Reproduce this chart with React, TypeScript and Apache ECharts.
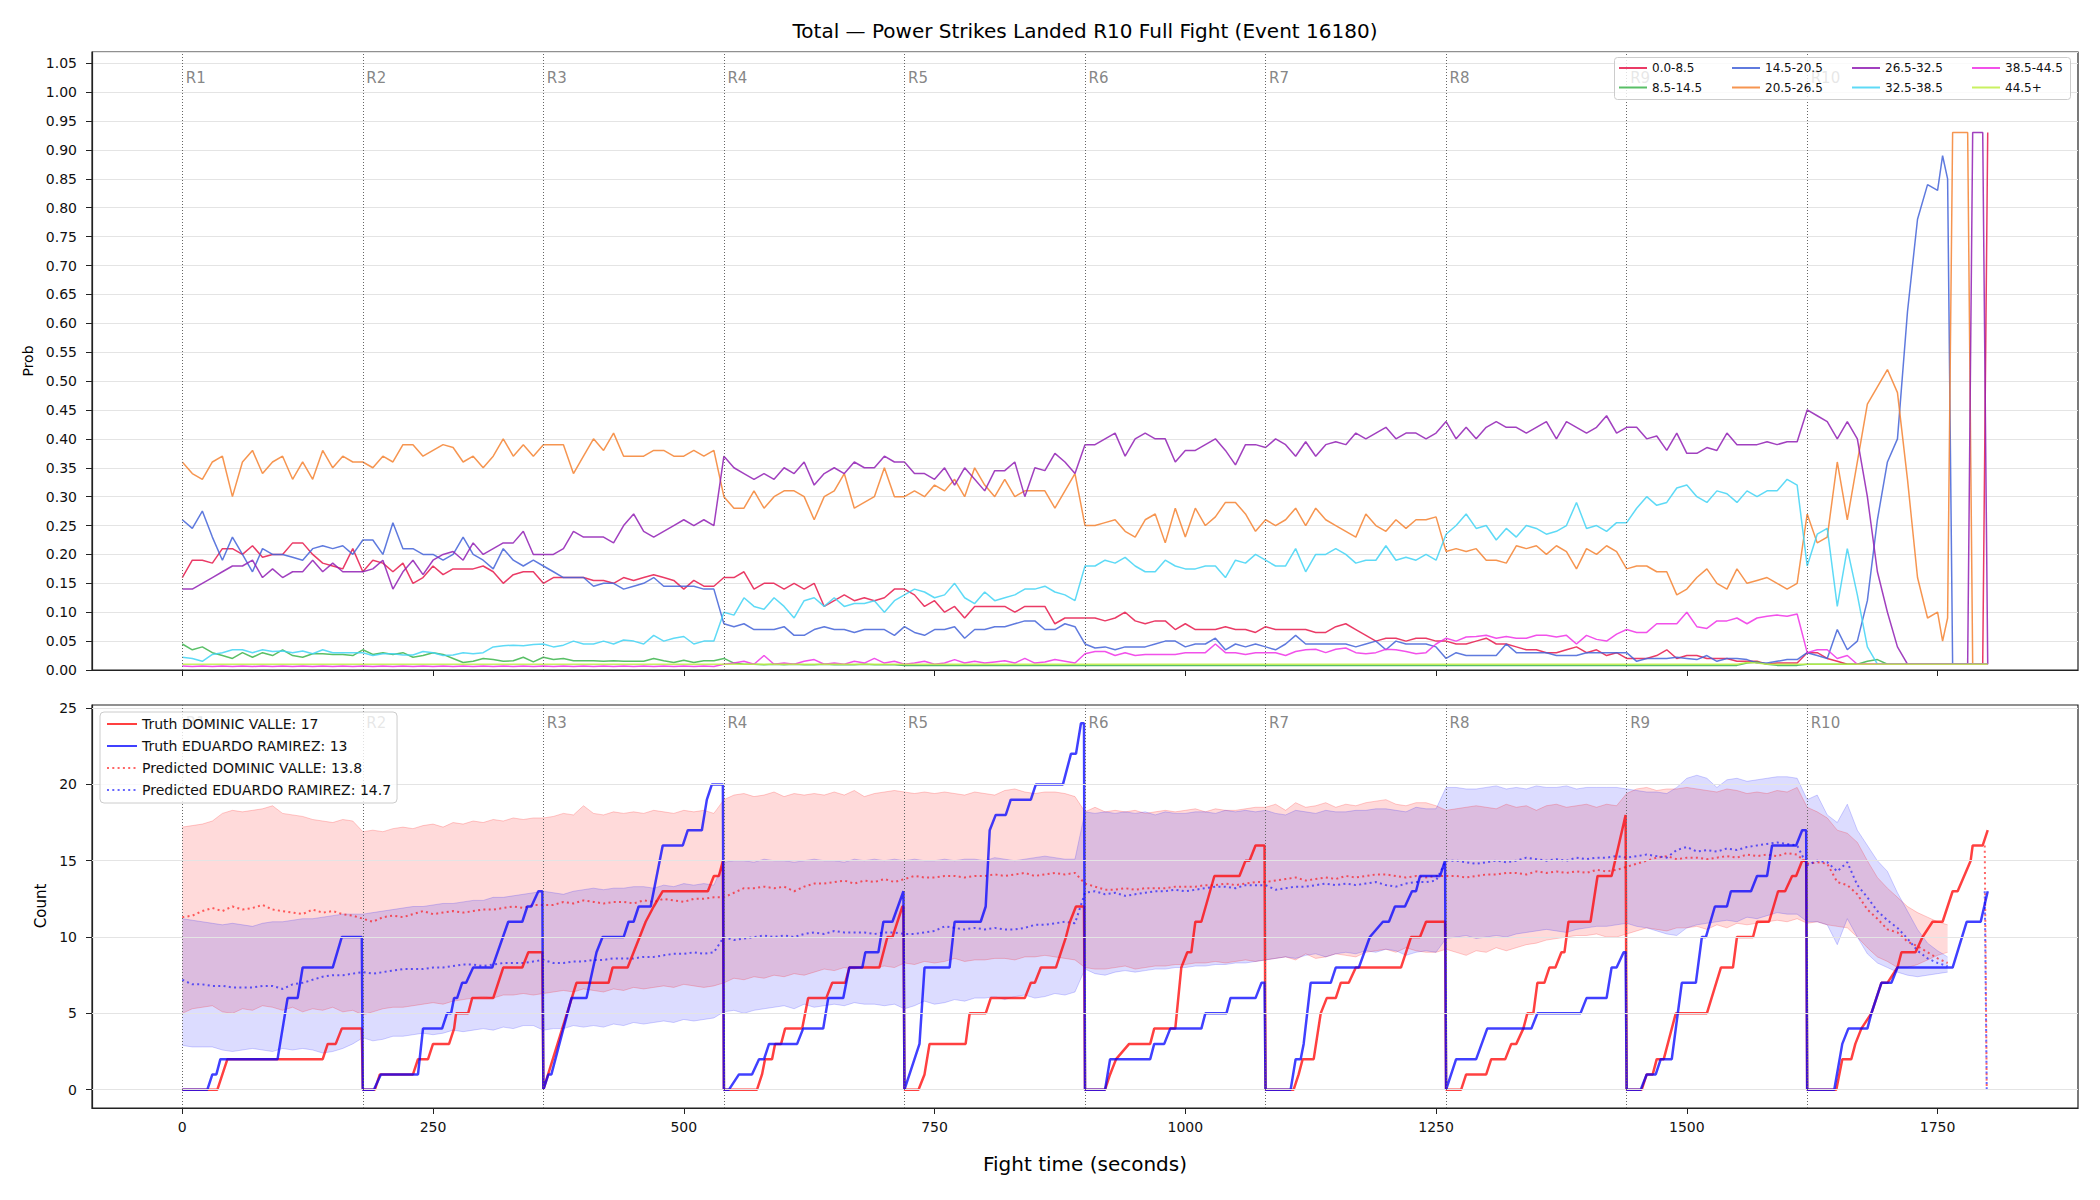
import React, { useEffect, useRef } from "react";
import * as echarts from "echarts";

const FONT = '"DejaVu Sans", sans-serif';

const ROUND_LABELS = ["R1", "R2", "R3", "R4", "R5", "R6", "R7", "R8", "R9", "R10"];
const ROUND_STARTS = [0, 180, 360, 540, 720, 900, 1080, 1260, 1440, 1620];
const X_TICKS = [0, 250, 500, 750, 1000, 1250, 1500, 1750];
const COUNT_TICKS = [0, 5, 10, 15, 20, 25];

const BIN_NAMES = ["0.0-8.5", "8.5-14.5", "14.5-20.5", "20.5-26.5", "26.5-32.5", "32.5-38.5", "38.5-44.5", "44.5+"];
const BIN_COLORS = ["#e6194b", "#3cb44b", "#4363d8", "#f58231", "#911eb4", "#42d4f4", "#f032e6", "#bfef45"];

// ---------- probability per bin (rounds R1..R9: every 10 s; R10: 10 s to 1750 then 5 s) ----------
const PROB_0_8 = [
  [.16, .19, .19, .185, .21, .21, .20, .215, .195, .20, .20, .22, .22, .20, .185, .18, .175, .21],
  [.17, .19, .185, .17, .185, .15, .16, .18, .165, .175, .175, .175, .18, .17, .15, .165, .17, .17],
  [.15, .16, .16, .16, .16, .155, .155, .15, .16, .155, .16, .165, .16, .155, .14, .155, .145, .145],
  [.16, .16, .17, .14, .15, .15, .14, .15, .14, .15, .11, .12, .13, .12, .125, .12, .125, .14],
  [.14, .13, .11, .12, .10, .11, .09, .11, .11, .11, .11, .10, .11, .11, .11, .08, .09, .09],
  [.09, .09, .085, .09, .10, .085, .08, .085, .085, .07, .08, .07, .07, .07, .075, .07, .07, .065],
  [.075, .07, .07, .07, .07, .065, .065, .075, .08, .07, .06, .05, .055, .055, .05, .055, .055, .05],
  [.05, .045, .045, .05, .055, .045, .045, .04, .035, .035, .03, .03, .035, .04, .03, .035, .025, .03],
  [.02, .02, .02, .025, .035, .02, .025, .025, .02, .02, .02, .015, .015, .015, .01, .012, .012, .012],
  [.03, .03, .02, .015, .01, .01, .01, .01, .01, .01, .01, .01, .01, .01, .01, .01, .01, .01, .01, .01, .01, .01, .01, .93],
];
const PROB_8_14 = [
  [.045, .035, .04, .03, .025, .02, .03, .022, .03, .025, .035, .025, .022, .028, .028, .027, .027, .025],
  [.035, .027, .03, .027, .03, .022, .025, .03, .027, .02, .013, .015, .02, .018, .015, .016, .022, .014],
  [.022, .018, .02, .016, .016, .016, .015, .016, .015, .015, .015, .02, .016, .013, .017, .013, .016, .016],
  [.02, .012, .01, .01, .009, .01, .009, .01, .009, .009, .01, .009, .009, .009, .01, .009, .009, .009],
  [.008, .008, .008, .008, .008, .008, .008, .008, .008, .008, .008, .008, .008, .008, .008, .008, .008, .008],
  [.008, .008, .008, .008, .008, .008, .008, .008, .008, .008, .008, .008, .008, .008, .008, .008, .008, .008],
  [.008, .008, .008, .008, .008, .008, .008, .008, .008, .008, .008, .008, .008, .008, .008, .008, .008, .008],
  [.008, .008, .008, .008, .008, .008, .008, .008, .008, .008, .008, .008, .008, .008, .008, .008, .008, .008],
  [.008, .008, .008, .008, .008, .008, .008, .008, .008, .008, .008, .008, .012, .014, .01, .008, .008, .008],
  [.01, .01, .01, .01, .01, .01, .015, .018, .01, .01, .01, .01, .01, .01, .01, .01, .01, .01, .01, .01, .01, .01, .01, .01],
];
const PROB_14_20 = [
  [.26, .245, .275, .23, .19, .23, .20, .17, .21, .20, .20, .195, .19, .21, .215, .21, .215, .20],
  [.225, .225, .20, .255, .21, .21, .20, .20, .19, .20, .23, .20, .19, .175, .21, .19, .18, .19],
  [.18, .17, .16, .16, .16, .145, .15, .15, .14, .145, .15, .16, .145, .145, .145, .145, .14, .14],
  [.08, .075, .08, .07, .07, .07, .075, .06, .06, .07, .075, .07, .07, .065, .07, .07, .07, .06],
  [.075, .065, .06, .07, .07, .075, .055, .07, .07, .075, .075, .08, .085, .085, .07, .07, .08, .075],
  [.045, .038, .04, .035, .04, .04, .04, .045, .05, .05, .04, .045, .045, .055, .035, .045, .04, .045],
  [.04, .035, .045, .06, .045, .045, .045, .045, .045, .04, .045, .05, .035, .05, .045, .045, .045, .04],
  [.02, .03, .025, .025, .025, .025, .045, .03, .03, .03, .03, .025, .025, .025, .03, .03, .03, .03],
  [.03, .015, .02, .02, .02, .022, .02, .018, .025, .015, .02, .02, .018, .012, .012, .015, .018, .018],
  [.03, .025, .02, .07, .035, .05, .12, .26, .36, .40, .62, .78, .84, .83, .89, .85, .01, .01, .01, .01, .01, .01, .01, .01],
];
const PROB_20_26 = [
  [.36, .34, .33, .36, .37, .30, .36, .38, .34, .36, .37, .33, .36, .33, .38, .35, .37, .36],
  [.36, .35, .37, .36, .39, .39, .37, .38, .39, .385, .36, .37, .35, .37, .40, .37, .39, .37],
  [.39, .39, .39, .34, .37, .40, .38, .41, .37, .37, .37, .38, .38, .37, .37, .38, .37, .38],
  [.30, .28, .28, .31, .28, .30, .31, .31, .30, .26, .30, .31, .34, .28, .29, .30, .35, .30],
  [.30, .31, .30, .32, .31, .33, .30, .35, .32, .30, .33, .30, .31, .31, .31, .28, .31, .34],
  [.25, .25, .255, .26, .24, .23, .26, .27, .22, .28, .23, .28, .25, .265, .29, .29, .27, .24],
  [.26, .25, .26, .28, .25, .28, .26, .25, .24, .23, .27, .25, .24, .26, .245, .26, .26, .265],
  [.205, .21, .205, .21, .19, .19, .185, .215, .21, .215, .20, .215, .205, .175, .21, .20, .215, .205],
  [.175, .18, .18, .17, .17, .13, .14, .16, .175, .15, .14, .175, .15, .155, .16, .15, .14, .15],
  [.27, .22, .23, .36, .26, .36, .46, .49, .52, .48, .33, .16, .09, .10, .05, .09, .93, .93, .93, .93, .01, .01, .01, .01],
];
const PROB_26_32 = [
  [.14, .14, .15, .16, .17, .18, .18, .19, .16, .175, .16, .17, .17, .19, .17, .185, .17, .17],
  [.17, .175, .19, .14, .17, .19, .165, .19, .20, .205, .19, .22, .20, .21, .22, .22, .24, .20],
  [.20, .20, .21, .24, .23, .23, .23, .22, .25, .27, .24, .23, .24, .25, .26, .25, .26, .25],
  [.37, .35, .34, .33, .34, .33, .35, .34, .36, .32, .34, .35, .34, .36, .35, .35, .37, .36],
  [.36, .34, .34, .33, .35, .32, .35, .33, .31, .345, .345, .36, .30, .35, .345, .375, .36, .34],
  [.39, .39, .40, .41, .37, .40, .41, .40, .40, .36, .38, .38, .39, .40, .38, .355, .39, .39],
  [.385, .40, .39, .37, .395, .37, .39, .395, .39, .41, .40, .41, .42, .40, .41, .41, .40, .41],
  [.43, .40, .42, .40, .42, .43, .42, .42, .41, .42, .43, .40, .43, .42, .41, .42, .44, .41],
  [.42, .42, .40, .405, .38, .41, .375, .375, .385, .38, .41, .39, .39, .39, .395, .39, .395, .395],
  [.45, .44, .43, .40, .43, .40, .30, .17, .10, .04, .01, .01, .01, .01, .01, .01, .01, .01, .01, .01, .93, .93, .93, .01],
];
const PROB_32_38 = [
  [.022, .02, .015, .027, .03, .035, .035, .03, .035, .032, .033, .03, .033, .028, .035, .03, .03, .03],
  [.03, .025, .028, .028, .026, .026, .032, .03, .025, .026, .03, .028, .03, .04, .042, .043, .042, .044],
  [.045, .04, .043, .05, .045, .045, .05, .045, .052, .05, .045, .06, .05, .055, .058, .045, .05, .05],
  [.10, .095, .125, .11, .105, .125, .11, .09, .12, .125, .11, .125, .11, .115, .115, .12, .10, .12],
  [.13, .14, .135, .125, .13, .15, .125, .115, .135, .12, .125, .13, .14, .14, .145, .135, .13, .12],
  [.18, .18, .19, .185, .195, .18, .17, .17, .19, .18, .175, .175, .18, .18, .16, .19, .185, .20],
  [.19, .18, .18, .21, .17, .20, .20, .21, .20, .185, .19, .19, .215, .19, .195, .19, .20, .19],
  [.235, .25, .27, .245, .25, .225, .245, .23, .25, .245, .235, .24, .25, .29, .245, .25, .24, .255],
  [.255, .28, .30, .285, .29, .315, .32, .30, .29, .31, .305, .29, .31, .30, .31, .31, .33, .32],
  [.18, .235, .245, .11, .21, .13, .04, .01, .01, .01, .01, .01, .01, .01, .01, .01, .01, .01, .01, .01, .01, .01, .01, .01],
];
const PROB_38_44 = [
  [.007, .006, .007, .006, .007, .006, .007, .006, .007, .006, .007, .006, .007, .006, .007, .006, .007, .006],
  [.007, .006, .007, .006, .007, .006, .007, .006, .007, .006, .007, .006, .007, .006, .007, .006, .007, .006],
  [.007, .006, .007, .006, .007, .006, .007, .006, .007, .006, .007, .006, .007, .006, .007, .006, .007, .006],
  [.01, .012, .015, .01, .025, .01, .012, .01, .015, .018, .01, .012, .01, .015, .012, .02, .012, .015],
  [.01, .012, .015, .01, .012, .018, .012, .015, .012, .014, .016, .012, .02, .012, .014, .018, .015, .012],
  [.028, .032, .032, .025, .03, .025, .027, .027, .027, .027, .03, .03, .03, .045, .03, .03, .027, .03],
  [.03, .03, .025, .032, .035, .036, .03, .036, .038, .03, .028, .03, .036, .035, .032, .028, .03, .045],
  [.055, .05, .057, .058, .06, .055, .058, .055, .055, .06, .06, .057, .06, .045, .06, .053, .05, .062],
  [.07, .065, .065, .08, .08, .08, .10, .075, .072, .085, .085, .09, .08, .09, .093, .095, .093, .097],
  [.03, .035, .035, .02, .025, .01, .01, .01, .01, .01, .01, .01, .01, .01, .01, .01, .01, .01, .01, .01, .01, .01, .01, .01],
];
const PROB_44_UP = [
  [.01, .01, .01, .01, .01, .01, .01, .01, .01, .01, .01, .01, .01, .01, .01, .01, .01, .01],
  [.01, .01, .01, .01, .01, .01, .01, .01, .01, .01, .01, .01, .01, .01, .01, .01, .01, .01],
  [.01, .01, .01, .01, .01, .01, .01, .01, .01, .01, .01, .01, .01, .01, .01, .01, .01, .01],
  [.01, .01, .01, .01, .01, .01, .01, .01, .01, .01, .01, .01, .01, .01, .01, .01, .01, .01],
  [.01, .01, .01, .01, .01, .01, .01, .01, .01, .01, .01, .01, .01, .01, .01, .01, .01, .01],
  [.01, .01, .01, .01, .01, .01, .01, .01, .01, .01, .01, .01, .01, .01, .01, .01, .01, .01],
  [.01, .01, .01, .01, .01, .01, .01, .01, .01, .01, .01, .01, .01, .01, .01, .01, .01, .01],
  [.01, .01, .01, .01, .01, .01, .01, .01, .01, .01, .01, .01, .01, .01, .01, .01, .01, .01],
  [.01, .01, .01, .01, .01, .01, .01, .01, .01, .01, .01, .01, .013, .012, .01, .01, .01, .01],
  [.01, .01, .01, .01, .01, .01, .01, .01, .01, .01, .01, .01, .01, .01, .01, .01, .01, .01, .01, .01, .01, .01, .01, .01],
];

// ---------- counts: predicted means and bands (every 10 s, R10 to 1760) ----------
const PRED_VALLE = [
  [11.3, 11.4, 11.7, 11.9, 11.7, 12.0, 11.8, 11.9, 12.1, 11.8, 11.7, 11.6, 11.5, 11.8, 11.6, 11.7, 11.5, 11.4],
  [11.2, 11.0, 11.3, 11.4, 11.3, 11.5, 11.7, 11.5, 11.6, 11.7, 11.6, 11.7, 11.8, 11.8, 11.9, 12.0, 11.9, 12.1],
  [12.1, 12.1, 12.3, 12.2, 12.4, 12.3, 12.2, 12.3, 12.3, 12.2, 12.4, 12.3, 12.5, 12.4, 12.3, 12.5, 12.5, 12.6],
  [12.6, 12.9, 13.2, 13.2, 13.3, 13.2, 13.3, 13.0, 13.3, 13.5, 13.5, 13.6, 13.7, 13.5, 13.7, 13.6, 13.8, 13.6],
  [13.8, 14.0, 13.9, 13.9, 14.0, 14.0, 13.9, 14.0, 14.0, 14.1, 14.0, 14.1, 14.2, 14.0, 14.1, 14.2, 14.1, 14.2],
  [13.5, 13.3, 13.1, 13.1, 13.2, 13.1, 13.2, 13.2, 13.2, 13.3, 13.3, 13.3, 13.4, 13.4, 13.5, 13.4, 13.5, 13.6],
  [13.6, 13.7, 13.8, 13.9, 13.7, 13.8, 13.9, 13.8, 14.0, 13.9, 14.0, 14.1, 14.1, 14.0, 13.9, 14.0, 13.9, 14.0],
  [14.0, 14.0, 13.9, 14.0, 14.1, 14.1, 14.2, 14.2, 14.1, 14.3, 14.2, 14.3, 14.2, 14.3, 14.2, 14.4, 14.3, 14.4],
  [14.6, 14.8, 15.0, 15.2, 15.3, 15.1, 15.2, 15.2, 15.1, 15.2, 15.3, 15.2, 15.4, 15.3, 15.4, 15.3, 15.5, 15.4],
  [14.8, 14.9, 14.8, 13.6, 13.4, 12.8, 11.8, 11.2, 10.5, 10.3, 9.7, 9.4, 9.0, 8.6, 8.3],
];
const PRED_RAMIREZ = [
  [7.2, 6.9, 6.9, 6.8, 6.8, 6.7, 6.7, 6.7, 6.8, 6.8, 6.6, 6.9, 7.0, 7.2, 7.4, 7.5, 7.5, 7.6],
  [7.7, 7.6, 7.7, 7.8, 7.9, 7.9, 7.9, 8.0, 8.0, 8.1, 8.2, 8.2, 8.1, 8.2, 8.3, 8.3, 8.3, 8.4],
  [8.5, 8.3, 8.3, 8.4, 8.4, 8.5, 8.5, 8.6, 8.6, 8.6, 8.7, 8.7, 8.8, 8.9, 8.9, 9.0, 8.9, 9.0],
  [10.0, 9.8, 9.9, 10.0, 10.1, 10.0, 10.1, 10.0, 10.2, 10.3, 10.2, 10.4, 10.3, 10.3, 10.3, 10.2, 10.3, 10.3],
  [10.2, 10.2, 10.3, 10.4, 10.7, 10.6, 10.5, 10.6, 10.5, 10.6, 10.5, 10.5, 10.6, 10.8, 10.8, 10.9, 11.0, 10.9],
  [12.9, 13.0, 12.8, 12.9, 12.7, 12.8, 12.9, 13.0, 13.0, 13.1, 13.0, 13.1, 13.2, 13.3, 13.3, 13.2, 13.4, 13.4],
  [13.4, 13.1, 13.2, 13.3, 13.3, 13.4, 13.5, 13.4, 13.5, 13.4, 13.5, 13.6, 13.4, 13.3, 13.5, 13.6, 13.6, 13.7],
  [15.0, 15.0, 14.9, 14.8, 14.9, 15.0, 14.9, 15.0, 15.2, 15.1, 15.0, 15.1, 15.0, 15.2, 15.1, 15.2, 15.2, 15.3],
  [15.2, 15.3, 15.4, 15.3, 15.2, 15.7, 15.9, 15.6, 15.7, 15.6, 15.8, 15.7, 15.9, 16.0, 16.1, 16.2, 16.1, 16.0],
  [14.7, 15.0, 14.9, 14.3, 14.9, 13.4, 12.6, 11.7, 11.1, 10.6, 9.9, 9.1, 8.6, 8.3, 8.1],
];
const BAND_VALLE_HIGH = [
  [17.2, 17.3, 17.4, 17.6, 18.1, 18.3, 18.2, 18.3, 18.4, 18.6, 18.1, 18.0, 17.9, 17.7, 17.6, 17.5, 17.7, 17.6],
  [16.9, 17.0, 16.9, 17.1, 17.2, 17.1, 17.3, 17.4, 17.2, 17.5, 17.4, 17.6, 17.5, 17.7, 17.6, 17.8, 17.7, 17.8],
  [17.8, 17.9, 18.1, 18.0, 18.6, 18.1, 18.0, 18.2, 18.1, 18.2, 18.1, 18.3, 18.2, 18.1, 18.3, 18.2, 18.3, 18.1],
  [19.0, 19.3, 19.4, 19.2, 19.3, 19.5, 19.2, 19.4, 19.3, 19.4, 19.3, 19.5, 19.3, 19.6, 19.2, 19.4, 19.5, 19.6],
  [19.5, 19.4, 19.5, 19.4, 19.5, 19.4, 19.3, 19.5, 19.4, 19.3, 19.6, 19.7, 19.5, 19.4, 19.5, 19.5, 19.4, 19.2],
  [18.2, 18.5, 18.2, 18.3, 18.2, 18.3, 18.1, 18.2, 18.3, 18.2, 18.3, 18.4, 18.2, 18.4, 18.3, 18.3, 18.4, 18.5],
  [18.5, 18.7, 18.3, 18.8, 18.5, 18.6, 18.8, 18.5, 18.7, 18.6, 18.8, 18.9, 19.0, 18.7, 18.6, 18.8, 18.8, 18.6],
  [18.3, 18.4, 18.5, 18.6, 18.5, 18.4, 18.7, 18.5, 18.6, 18.3, 18.6, 18.7, 18.5, 18.6, 18.7, 18.5, 18.7, 18.6],
  [19.4, 19.7, 19.8, 19.6, 19.7, 19.7, 19.8, 19.7, 19.6, 19.5, 19.7, 19.6, 19.4, 19.5, 19.4, 19.6, 19.5, 19.8],
  [18.5, 18.2, 17.8, 17.0, 16.8, 16.2, 15.0, 13.9, 13.2, 12.6, 12.0, 11.6, 11.3, 11.0, 10.8],
];
const BAND_VALLE_LOW = [
  [5.0, 5.3, 5.4, 5.5, 5.1, 5.0, 5.3, 5.2, 5.5, 5.4, 5.2, 5.4, 5.1, 5.3, 5.2, 5.4, 5.1, 5.2],
  [4.9, 5.1, 5.3, 5.4, 5.4, 5.5, 5.6, 5.7, 5.6, 5.8, 5.9, 6.0, 6.1, 6.0, 6.2, 6.2, 6.3, 6.2],
  [6.3, 6.4, 6.5, 6.4, 6.6, 6.5, 6.4, 6.6, 6.5, 6.7, 6.6, 6.7, 6.8, 6.7, 6.9, 6.8, 6.7, 6.8],
  [7.0, 7.3, 7.2, 7.4, 7.3, 7.5, 7.4, 7.6, 7.5, 7.7, 7.9, 7.8, 8.0, 7.9, 8.1, 8.0, 8.1, 8.0],
  [8.3, 8.2, 8.4, 8.3, 8.4, 8.6, 8.4, 8.5, 8.5, 8.6, 8.6, 8.5, 8.7, 8.7, 8.8, 8.7, 8.6, 8.5],
  [8.0, 7.9, 7.9, 8.0, 8.1, 7.9, 8.0, 8.1, 8.1, 8.2, 8.2, 8.3, 8.3, 8.4, 8.3, 8.4, 8.5, 8.4],
  [8.5, 8.6, 8.7, 8.5, 8.9, 8.6, 8.7, 8.9, 8.8, 8.7, 9.0, 9.1, 9.2, 9.0, 9.3, 9.1, 9.0, 9.0],
  [9.2, 9.0, 8.8, 9.1, 9.0, 9.3, 9.1, 9.3, 9.5, 9.6, 9.8, 9.9, 10.0, 10.1, 10.1, 10.2, 10.0, 10.0],
  [10.2, 10.4, 10.6, 10.5, 10.4, 10.6, 10.6, 10.7, 10.5, 10.8, 10.6, 10.9, 10.8, 10.9, 11.0, 11.1, 11.0, 11.2],
  [10.9, 11.0, 10.8, 10.7, 10.6, 10.0, 9.3, 8.7, 8.4, 8.0, 8.0, 8.2, 8.5, 8.8, 9.0],
];
const BAND_RAMIREZ_HIGH = [
  [11.2, 11.1, 11.0, 10.9, 10.8, 10.9, 10.8, 10.7, 10.9, 11.0, 11.0, 11.1, 11.2, 11.2, 11.3, 11.4, 11.5, 11.5],
  [11.5, 11.6, 11.7, 11.8, 11.9, 12.0, 12.0, 12.1, 12.2, 12.2, 12.3, 12.4, 12.4, 12.6, 12.6, 12.7, 12.8, 12.9],
  [13.0, 12.9, 12.8, 13.0, 13.1, 13.2, 13.1, 13.2, 13.2, 13.3, 13.3, 13.2, 13.4, 13.3, 13.5, 13.4, 13.5, 13.4],
  [14.9, 15.0, 15.0, 14.9, 15.1, 15.0, 15.0, 14.9, 15.0, 15.1, 15.0, 15.0, 14.9, 15.1, 15.0, 15.1, 15.0, 15.1],
  [15.0, 15.1, 15.0, 15.0, 15.1, 15.0, 15.1, 15.1, 15.0, 15.2, 15.1, 15.0, 15.1, 15.2, 15.3, 15.2, 15.1, 15.1],
  [18.2, 18.1, 18.2, 18.1, 18.2, 18.1, 18.2, 18.0, 18.2, 18.1, 18.1, 18.2, 18.2, 18.1, 18.3, 18.2, 18.3, 18.2],
  [18.3, 18.1, 18.0, 18.3, 18.2, 18.1, 18.3, 18.2, 18.2, 18.3, 18.3, 18.4, 18.4, 18.3, 18.2, 18.5, 18.4, 18.4],
  [19.8, 19.8, 19.7, 19.7, 19.8, 19.9, 19.7, 19.8, 19.7, 19.9, 19.8, 19.8, 19.9, 19.7, 19.8, 19.8, 19.8, 19.8],
  [19.7, 19.6, 19.5, 19.5, 19.4, 19.8, 20.4, 20.6, 20.4, 19.8, 20.3, 20.4, 20.2, 20.3, 20.4, 20.5, 20.5, 20.4],
  [19.0, 19.3, 18.0, 17.5, 18.7, 17.0, 16.0, 15.0, 14.3, 12.9, 11.7, 10.5, 9.6, 9.1, 8.7],
];
const BAND_RAMIREZ_LOW = [
  [2.9, 2.8, 2.8, 2.8, 2.6, 2.5, 2.6, 2.7, 2.6, 2.5, 2.7, 2.6, 2.7, 2.6, 2.4, 2.5, 2.7, 3.0],
  [3.4, 3.2, 3.3, 3.5, 3.5, 3.6, 3.7, 3.6, 3.7, 3.9, 3.8, 3.9, 4.0, 3.9, 4.1, 4.0, 4.2, 4.2],
  [3.9, 4.0, 4.0, 4.2, 4.1, 4.2, 4.1, 4.3, 4.2, 4.4, 4.3, 4.4, 4.5, 4.4, 4.6, 4.5, 4.6, 4.7],
  [5.1, 5.2, 5.0, 5.2, 5.3, 5.4, 5.5, 5.3, 5.6, 5.4, 5.5, 5.6, 5.5, 5.7, 5.6, 5.6, 5.5, 5.6],
  [5.3, 5.5, 5.8, 5.6, 5.7, 5.9, 5.8, 6.0, 6.0, 6.1, 5.9, 6.1, 6.2, 6.0, 6.1, 6.3, 6.2, 6.4],
  [7.9, 7.6, 7.5, 7.7, 7.8, 7.7, 7.8, 7.9, 7.9, 8.0, 8.0, 8.1, 8.1, 8.2, 8.2, 8.3, 8.3, 8.4],
  [8.5, 8.6, 8.7, 8.6, 8.8, 8.9, 8.7, 8.9, 9.0, 8.9, 9.1, 9.0, 9.2, 9.1, 8.8, 9.0, 9.1, 9.0],
  [9.9, 10.0, 10.1, 9.9, 10.0, 10.1, 10.0, 10.2, 10.3, 10.4, 10.5, 10.4, 10.3, 10.5, 10.6, 10.7, 10.7, 10.8],
  [10.9, 10.7, 10.6, 10.4, 10.2, 10.1, 10.6, 10.8, 10.9, 11.0, 11.1, 11.0, 11.3, 11.2, 11.4, 11.6, 11.5, 11.5],
  [11.0, 11.0, 10.8, 9.5, 11.2, 10.0, 8.9, 8.3, 8.0, 7.7, 7.5, 7.4, 7.5, 7.6, 7.7],
];
// final predicted drop at the bell: [time, count]
const PRED_END_VALLE = [[1797, 16], [1799, 0]];
const PRED_END_RAMIREZ = [[1797, 13], [1799, 0]];

// ---------- truth cumulative counts per round: [time s, count] ----------
const TRUTH_VALLE = [
  [0, 0], [35, 0], [40, 1], [45, 2], [140, 2], [145, 3], [153, 3], [159, 4], [179, 4],
  [180, 0], [192, 0], [197, 1], [230, 1], [235, 2], [245, 2], [250, 3], [266, 3], [271, 4], [273, 5], [285, 5], [289, 6], [310, 6], [320, 8], [339, 8], [345, 9], [359, 9],
  [360, 0], [393, 7], [425, 7], [429, 8], [444, 8], [456, 10], [462, 11], [470, 12], [479, 13], [524, 13], [530, 14], [535, 14], [539, 15],
  [540, 0], [573, 0], [578, 1], [581, 2], [588, 2], [591, 3], [597, 3], [601, 4], [618, 4], [624, 6], [642, 6], [648, 7], [661, 7], [665, 8], [695, 8], [703, 10], [708, 10], [718, 12], [719, 12],
  [720, 0], [734, 0], [740, 1], [745, 3], [781, 3], [785, 5], [801, 5], [806, 6], [840, 6], [846, 7], [850, 7], [856, 8], [871, 8], [881, 10], [885, 11], [891, 12], [899, 12],
  [900, 0], [920, 0], [925, 1], [931, 2], [944, 3], [965, 3], [969, 4], [990, 4], [996, 8], [1002, 9], [1006, 9], [1010, 11], [1016, 11], [1029, 14], [1054, 14], [1060, 15], [1064, 15], [1070, 16], [1079, 16],
  [1080, 0], [1108, 0], [1113, 1], [1117, 2], [1128, 2], [1135, 5], [1141, 6], [1150, 6], [1155, 7], [1163, 7], [1170, 8], [1215, 8], [1225, 10], [1234, 10], [1240, 11], [1259, 11],
  [1260, 0], [1275, 0], [1280, 1], [1300, 1], [1305, 2], [1319, 2], [1325, 3], [1330, 3], [1337, 4], [1341, 5], [1347, 5], [1351, 7], [1358, 7], [1363, 8], [1369, 8], [1375, 9], [1378, 9], [1382, 11], [1404, 11], [1411, 14], [1425, 14], [1439, 18],
  [1440, 0], [1455, 0], [1460, 1], [1466, 1], [1470, 2], [1477, 2], [1481, 3], [1489, 5], [1520, 5], [1534, 8], [1546, 8], [1550, 10], [1566, 10], [1570, 11], [1582, 11], [1591, 13], [1598, 13], [1605, 14], [1609, 14], [1615, 15], [1619, 15],
  [1620, 0], [1649, 0], [1655, 2], [1664, 2], [1668, 3], [1674, 4], [1684, 5], [1694, 7], [1700, 7], [1710, 8], [1714, 9], [1728, 9], [1735, 10], [1745, 11], [1755, 11], [1765, 13], [1770, 13], [1783, 15], [1785, 16], [1795, 16], [1800, 17],
];
const TRUTH_RAMIREZ = [
  [0, 0], [25, 0], [30, 1], [34, 1], [38, 2], [95, 2], [105, 6], [115, 6], [120, 8], [150, 8], [159, 10], [179, 10],
  [180, 0], [191, 0], [198, 1], [235, 1], [240, 4], [259, 4], [264, 5], [268, 5], [271, 6], [274, 6], [279, 7], [283, 7], [290, 8], [309, 8], [325, 11], [339, 11], [344, 12], [348, 12], [355, 13], [359, 13],
  [360, 0], [365, 1], [368, 1], [388, 6], [403, 6], [413, 9], [419, 10], [440, 10], [445, 11], [450, 11], [455, 12], [467, 12], [479, 16], [499, 16], [504, 17], [518, 17], [523, 19], [528, 20], [539, 20],
  [540, 0], [545, 0], [555, 1], [568, 1], [575, 2], [580, 2], [585, 3], [613, 3], [619, 4], [639, 4], [644, 6], [659, 6], [665, 8], [678, 8], [681, 9], [694, 9], [699, 11], [708, 11], [719, 13],
  [720, 0], [735, 3], [740, 8], [765, 8], [770, 11], [796, 11], [801, 12], [805, 17], [811, 18], [821, 18], [826, 19], [846, 19], [851, 20], [878, 20], [886, 22], [891, 22], [896, 24], [899, 24],
  [900, 0], [920, 0], [925, 2], [965, 2], [969, 3], [979, 3], [985, 4], [1016, 4], [1020, 5], [1041, 5], [1045, 6], [1070, 6], [1076, 7], [1079, 7],
  [1080, 0], [1105, 0], [1110, 2], [1115, 2], [1118, 3], [1125, 7], [1145, 7], [1150, 8], [1173, 8], [1184, 10], [1197, 11], [1203, 11], [1209, 12], [1219, 12], [1226, 13], [1230, 13], [1234, 14], [1254, 14], [1259, 15],
  [1260, 0], [1270, 2], [1290, 2], [1301, 4], [1345, 4], [1351, 5], [1394, 5], [1400, 6], [1420, 6], [1425, 8], [1430, 8], [1437, 9], [1439, 9],
  [1440, 0], [1454, 0], [1460, 1], [1469, 1], [1474, 2], [1485, 2], [1495, 7], [1509, 7], [1515, 10], [1519, 10], [1528, 12], [1540, 12], [1544, 13], [1564, 13], [1570, 14], [1580, 14], [1585, 16], [1609, 16], [1615, 17], [1619, 17],
  [1620, 0], [1647, 0], [1655, 3], [1661, 4], [1680, 4], [1684, 5], [1694, 7], [1704, 7], [1710, 8], [1765, 8], [1779, 11], [1793, 11], [1800, 13],
];

const NAME_TRUTH_VALLE = "Truth DOMINIC VALLE: 17";
const NAME_TRUTH_RAMIREZ = "Truth EDUARDO RAMIREZ: 13";
const NAME_PRED_VALLE = "Predicted DOMINIC VALLE: 13.8";
const NAME_PRED_RAMIREZ = "Predicted EDUARDO RAMIREZ: 14.7";

// ---------- sampling grids ----------
function seq(start: number, step: number, n: number): number[] {
  const a: number[] = [];
  for (let k = 0; k < n; k++) a.push(start + k * step);
  return a;
}
const TOP_TIMES: number[] = [
  ...ROUND_STARTS.slice(0, 9).flatMap((s) => seq(s, 10, 18)),
  ...seq(1620, 10, 14),
  ...seq(1755, 5, 10),
];
const BOT_TIMES: number[] = [
  ...ROUND_STARTS.slice(0, 9).flatMap((s) => seq(s, 10, 18)),
  ...seq(1620, 10, 15),
];

function pairs(times: number[], vals: number[]): any[] {
  const n = Math.min(times.length, vals.length);
  const out: any[] = [];
  for (let i = 0; i < n; i++) out.push([times[i], vals[i]]);
  return out;
}

function buildOption(): any {
  const probSets = [PROB_0_8, PROB_8_14, PROB_14_20, PROB_20_26, PROB_26_32, PROB_32_38, PROB_38_44, PROB_44_UP].map((r) => r.flat());
  const axisColor = "#222";
  const tickLabel = { fontSize: 14, color: "#111", fontFamily: FONT };

  const roundSeries = (k: number, y: number) => ({
    type: "scatter",
    xAxisIndex: k,
    yAxisIndex: k,
    symbolSize: 1,
    silent: true,
    z: 6,
    itemStyle: { color: "rgba(0,0,0,0)" },
    data: ROUND_STARTS.map((t, i) => ({ name: ROUND_LABELS[i], value: [t, y] })),
    label: { show: true, position: "right", distance: 3, formatter: "{b}", color: "#666", fontSize: 15, fontFamily: FONT },
    markLine: {
      silent: true,
      symbol: ["none", "none"],
      label: { show: false },
      lineStyle: { color: "#666", type: [1, 2], width: 1 },
      data: ROUND_STARTS.map((t) => ({ xAxis: t })),
    },
  });

  const topSeries = BIN_NAMES.map((name, i) => ({
    type: "line",
    name,
    xAxisIndex: 0,
    yAxisIndex: 0,
    symbol: "none",
    showSymbol: false,
    z: 3,
    data: pairs(TOP_TIMES, probSets[i]),
    itemStyle: { color: BIN_COLORS[i] },
    lineStyle: { color: BIN_COLORS[i], width: 1.5, opacity: 0.85 },
  }));

  const rl = BAND_VALLE_LOW.flat();
  const ru = BAND_VALLE_HIGH.flat();
  const bl = BAND_RAMIREZ_LOW.flat();
  const bu = BAND_RAMIREZ_HIGH.flat();

  // band: filled polygon between low and high drawn through the axis scales, plus thin edge lines
  const bandSeries = (id: string, lo: number[], hi: number[], edge: string, fill: string) => [
    {
      type: "custom",
      name: id + "_fill",
      xAxisIndex: 1,
      yAxisIndex: 1,
      z: 1,
      silent: true,
      clip: true,
      data: [[BOT_TIMES[0], lo[0]]],
      renderItem: (_params: any, api: any) => {
        const n = Math.min(BOT_TIMES.length, lo.length, hi.length);
        const pts: number[][] = [];
        for (let i = 0; i < n; i++) pts.push(api.coord([BOT_TIMES[i], hi[i]]));
        for (let i = n - 1; i >= 0; i--) pts.push(api.coord([BOT_TIMES[i], lo[i]]));
        return { type: "polygon", shape: { points: pts }, style: { fill, stroke: null } };
      },
    },
    {
      type: "line",
      name: id + "_lo",
      xAxisIndex: 1,
      yAxisIndex: 1,
      symbol: "none",
      z: 1,
      silent: true,
      data: pairs(BOT_TIMES, lo),
      lineStyle: { color: edge, width: 1 },
      itemStyle: { color: edge },
    },
    {
      type: "line",
      name: id + "_hi",
      xAxisIndex: 1,
      yAxisIndex: 1,
      symbol: "none",
      z: 1,
      silent: true,
      data: pairs(BOT_TIMES, hi),
      lineStyle: { color: edge, width: 1 },
      itemStyle: { color: edge },
    },
  ];

  const predData = (vals: number[], end: number[][]) =>
    pairs(BOT_TIMES, vals).concat([[1780, "-"]], end);

  const bottomSeries = [
    {
      type: "line",
      name: "grid",
      xAxisIndex: 1,
      yAxisIndex: 1,
      symbol: "none",
      z: 0,
      silent: true,
      data: [[0, 0]],
      lineStyle: { opacity: 0 },
      markLine: {
        silent: true,
        symbol: ["none", "none"],
        label: { show: false },
        lineStyle: { color: "#e4e4e4", type: "solid", width: 1 },
        data: COUNT_TICKS.map((v) => ({ yAxis: v })),
      },
    },
    ...bandSeries("valleBand", rl, ru, "rgba(255,0,0,0.2)", "rgba(255,0,0,0.145)"),
    ...bandSeries("ramirezBand", bl, bu, "rgba(0,0,255,0.18)", "rgba(0,0,255,0.137)"),
    {
      type: "line",
      name: NAME_PRED_VALLE,
      xAxisIndex: 1,
      yAxisIndex: 1,
      symbol: "none",
      z: 3,
      data: predData(PRED_VALLE.flat(), PRED_END_VALLE),
      itemStyle: { color: "#ff0000" },
      lineStyle: { color: "#ff0000", width: 2, type: [2, 3.3], opacity: 0.6 },
    },
    {
      type: "line",
      name: NAME_PRED_RAMIREZ,
      xAxisIndex: 1,
      yAxisIndex: 1,
      symbol: "none",
      z: 3,
      data: predData(PRED_RAMIREZ.flat(), PRED_END_RAMIREZ),
      itemStyle: { color: "#0000ff" },
      lineStyle: { color: "#0000ff", width: 2, type: [2, 3.3], opacity: 0.6 },
    },
    {
      type: "line",
      name: NAME_TRUTH_VALLE,
      xAxisIndex: 1,
      yAxisIndex: 1,
      symbol: "none",
      z: 4,
      data: TRUTH_VALLE,
      itemStyle: { color: "#ff0000" },
      lineStyle: { color: "#ff0000", width: 2.5, opacity: 0.75 },
    },
    {
      type: "line",
      name: NAME_TRUTH_RAMIREZ,
      xAxisIndex: 1,
      yAxisIndex: 1,
      symbol: "none",
      z: 4,
      data: TRUTH_RAMIREZ,
      itemStyle: { color: "#0000ff" },
      lineStyle: { color: "#0000ff", width: 2.5, opacity: 0.75 },
    },
  ];

  const topLegendLefts = [1618, 1731, 1851, 1971];
  const topLegends = topLegendLefts.map((left, c) => ({
    data: [BIN_NAMES[c * 2], BIN_NAMES[c * 2 + 1]],
    orient: "vertical",
    left,
    top: 62,
    padding: 0,
    itemWidth: 28,
    itemHeight: 12,
    itemGap: 7.5,
    selectedMode: false,
    z: 12,
    itemStyle: { opacity: 0 },
    textStyle: { fontSize: 12, color: "#111", fontFamily: FONT },
  }));

  const bottomLegend = {
    data: [NAME_TRUTH_VALLE, NAME_TRUTH_RAMIREZ, NAME_PRED_VALLE, NAME_PRED_RAMIREZ],
    orient: "vertical",
    left: 100,
    top: 712,
    padding: [5, 6, 6, 6],
    itemWidth: 30,
    itemHeight: 14,
    itemGap: 8,
    selectedMode: false,
    z: 12,
    backgroundColor: "rgba(255,255,255,0.8)",
    borderColor: "#cccccc",
    borderWidth: 1,
    borderRadius: 4,
    itemStyle: { opacity: 0 },
    textStyle: { fontSize: 14, color: "#111", fontFamily: FONT },
  };

  return {
    animation: false,
    backgroundColor: "#ffffff",
    textStyle: { fontFamily: FONT },
    grid: [
      { left: 92, top: 52, width: 1986, height: 618, show: true, borderColor: axisColor, borderWidth: 1.2, backgroundColor: "rgba(0,0,0,0)" },
      { left: 92, top: 705, width: 1986, height: 403, show: true, borderColor: axisColor, borderWidth: 1.2, backgroundColor: "rgba(0,0,0,0)" },
    ],
    xAxis: [
      {
        gridIndex: 0, type: "value", min: -90, max: 1890,
        axisLine: { show: true, onZero: false, lineStyle: { color: axisColor, width: 1.2 } },
        axisTick: { show: true, customValues: X_TICKS, length: 6, lineStyle: { color: axisColor } },
        axisLabel: { show: false },
        splitLine: { show: false },
      },
      {
        gridIndex: 1, type: "value", min: -90, max: 1890,
        axisLine: { show: true, onZero: false, lineStyle: { color: axisColor, width: 1.2 } },
        axisTick: { show: true, customValues: X_TICKS, length: 6, lineStyle: { color: axisColor } },
        axisLabel: { show: true, customValues: X_TICKS, margin: 12, formatter: (v: number) => String(v), ...tickLabel },
        splitLine: { show: false },
      },
    ],
    yAxis: [
      {
        gridIndex: 0, type: "value", min: 0, max: 1.0695, interval: 0.05,
        axisLine: { show: true, onZero: false, lineStyle: { color: axisColor, width: 1.2 } },
        axisTick: { show: true, length: 6, lineStyle: { color: axisColor } },
        axisLabel: { show: true, showMaxLabel: false, margin: 15, formatter: (v: number) => v.toFixed(2), ...tickLabel },
        splitLine: { show: true, lineStyle: { color: "#e4e4e4", width: 1 } },
      },
      {
        gridIndex: 1, type: "value", min: -1.2, max: 25.2,
        axisLine: { show: true, onZero: false, lineStyle: { color: axisColor, width: 1.2 } },
        axisTick: { show: true, customValues: COUNT_TICKS, length: 6, lineStyle: { color: axisColor } },
        axisLabel: { show: true, customValues: COUNT_TICKS, margin: 15, formatter: (v: number) => String(v), ...tickLabel },
        splitLine: { show: false },
      },
    ],
    legend: [...topLegends, bottomLegend],
    graphic: [
      {
        type: "rect", z: 11, silent: true,
        shape: { x: 1614.5, y: 57.5, width: 456, height: 42, r: 3 },
        style: { fill: "rgba(255,255,255,0.8)", stroke: "#cccccc", lineWidth: 1 },
      },
      {
        type: "text", x: 1085, y: 31, silent: true,
        style: { text: "Total — Power Strikes Landed R10 Full Fight (Event 16180)", fill: "#000", font: '20px "DejaVu Sans"', align: "center", verticalAlign: "middle" },
      },
      {
        type: "text", x: 1085, y: 1164, silent: true,
        style: { text: "Fight time (seconds)", fill: "#000", font: '20px "DejaVu Sans"', align: "center", verticalAlign: "middle" },
      },
      {
        type: "text", x: 28, y: 361, rotation: Math.PI / 2, silent: true,
        style: { text: "Prob", fill: "#000", font: '14px "DejaVu Sans"', align: "center", verticalAlign: "middle" },
      },
      {
        type: "text", x: 41, y: 906, rotation: Math.PI / 2, silent: true,
        style: { text: "Count", fill: "#000", font: '15px "DejaVu Sans"', align: "center", verticalAlign: "middle" },
      },
    ],
    series: [
      ...topSeries,
      roundSeries(0, 1.024),
      ...bottomSeries,
      roundSeries(1, 24),
    ],
  };
}

export default function App() {
  const ref = useRef<HTMLDivElement>(null);
  useEffect(() => {
    if (!ref.current) return;
    const chart = echarts.init(ref.current, null, { renderer: "svg" });
    chart.setOption(buildOption());
    return () => chart.dispose();
  }, []);
  return (
    <div
      ref={ref}
      style={{ position: "fixed", left: 0, top: 0, width: 2100, height: 1200, background: "#fff" }}
    />
  );
}
